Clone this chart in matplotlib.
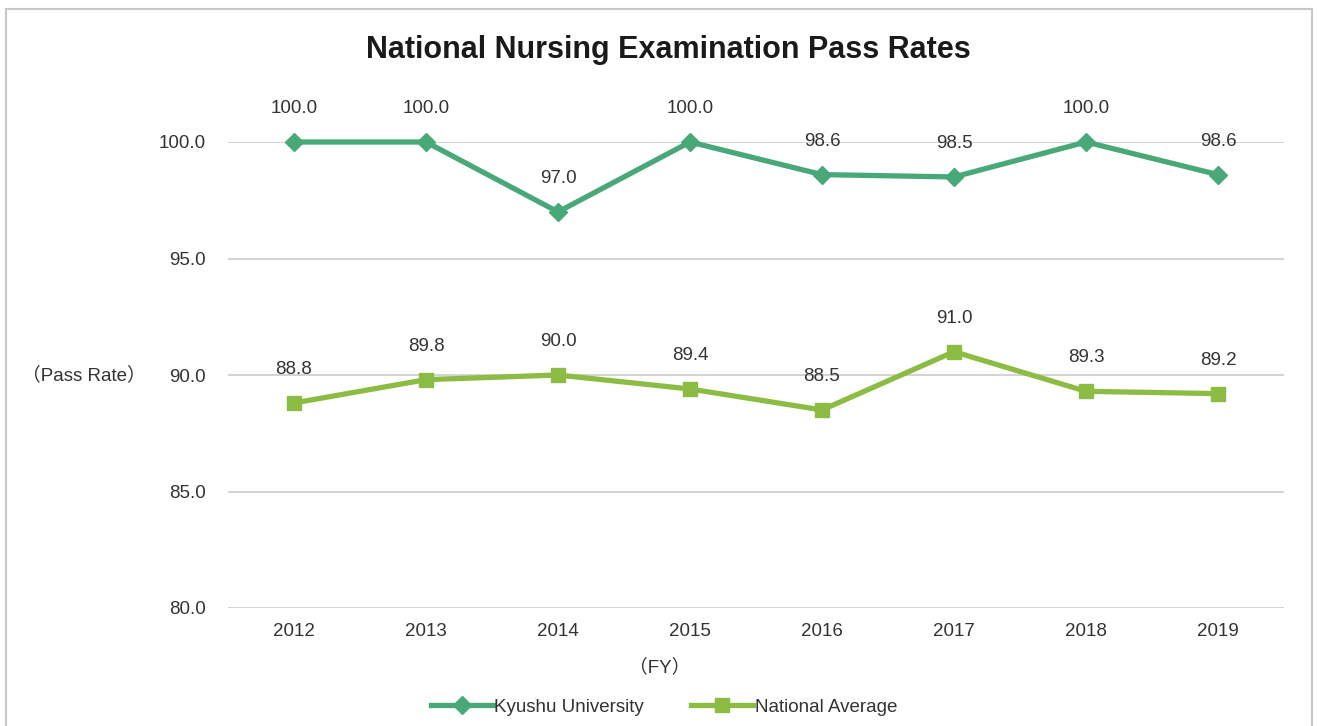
import matplotlib
matplotlib.use("Agg")
import matplotlib.pyplot as plt
from matplotlib.lines import Line2D

plt.rcParams['font.family'] = ['Liberation Sans', 'Noto Sans CJK JP', 'DejaVu Sans']

years = ["2012", "2013", "2014", "2015", "2016", "2017", "2018", "2019"]
kyushu = [100.0, 100.0, 97.0, 100.0, 98.6, 98.5, 100.0, 98.6]
national = [88.8, 89.8, 90.0, 89.4, 88.5, 91.0, 89.3, 89.2]
yticks = [80.0, 85.0, 90.0, 95.0, 100.0]

c_kyu = "#48a878"
c_nat = "#8cbc44"
txt = "#333333"
fs = 13.5

W, H = 1317, 726
fig = plt.figure(figsize=(W / 100, H / 100), dpi=100)

# chart border (bottom cut off)
bc = "#c8c8c8"
fig.add_artist(Line2D([6 / W, 6 / W], [0, 1 - 9 / H], transform=fig.transFigure, color=bc, lw=1.5))
fig.add_artist(Line2D([6 / W, 1312 / W], [1 - 9 / H, 1 - 9 / H], transform=fig.transFigure, color=bc, lw=1.5))
fig.add_artist(Line2D([1312 / W, 1312 / W], [0, 1 - 9 / H], transform=fig.transFigure, color=bc, lw=1.5))

ax = fig.add_axes([228 / W, 1 - 608 / H, (1284 - 228) / W, (608 - 142) / H])
x = list(range(len(years)))

ax.plot(x, kyushu, color=c_kyu, lw=3.8, marker="D", ms=9.5, label="Kyushu University", clip_on=False, zorder=3)
ax.plot(x, national, color=c_nat, lw=3.8, marker="s", ms=9.5, label="National Average", clip_on=False, zorder=3)

for xi, v in zip(x, kyushu):
    ax.annotate(f"{v:.1f}", (xi, v), xytext=(0, 24), textcoords="offset points",
                ha="center", va="center", fontsize=fs, color=txt)
for xi, v in zip(x, national):
    ax.annotate(f"{v:.1f}", (xi, v), xytext=(0, 24), textcoords="offset points",
                ha="center", va="center", fontsize=fs, color=txt)

ax.set_xlim(-0.5, len(years) - 0.5)
ax.set_ylim(80, 100)
ax.set_yticks(yticks)
ax.set_yticklabels([f"{v:.1f}" for v in yticks])
ax.set_xticks(x)
ax.set_xticklabels(years)
ax.tick_params(axis="both", length=0, labelsize=fs, labelcolor=txt)
ax.tick_params(axis="y", pad=16)
ax.tick_params(axis="x", pad=11)
for s in ax.spines.values():
    s.set_visible(False)
ax.grid(axis="y", color="#d0d0d0", lw=1.3)
ax.set_axisbelow(True)

fig.text(668 / W, 1 - 50 / H, "National Nursing Examination Pass Rates", ha="center", va="center",
         fontsize=22, fontweight="bold", color="#1a1a1a")
fig.text(84 / W, 1 - 375 / H, "（Pass Rate）", ha="center", va="center", fontsize=fs, color=txt)
fig.text(660 / W, 1 - 667 / H, "（FY）", ha="center", va="center", fontsize=fs, color=txt)

fig.legend(loc="center", bbox_to_anchor=(664 / W, 1 - 707 / H), ncol=2, frameon=False,
           fontsize=fs, handlelength=3.3, handletextpad=0.1, columnspacing=2.5,
           labelcolor=txt)

fig.savefig("out.png", dpi=100)
